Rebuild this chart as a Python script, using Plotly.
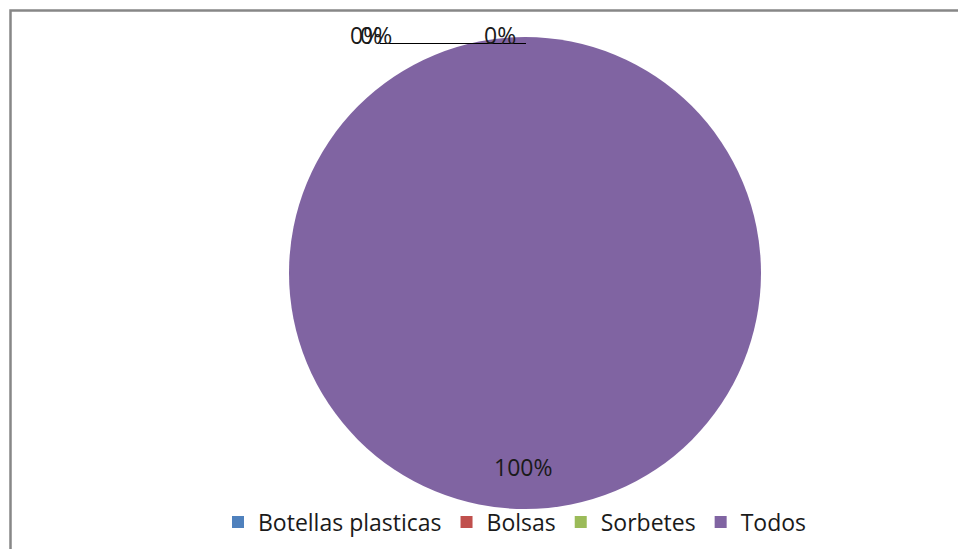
import plotly.graph_objects as go

categories = ["Botellas plasticas", "Bolsas", "Sorbetes", "Todos"]
values = [0, 0, 0, 100]
colors = ["#4F81BD", "#C0504D", "#9BBB59", "#8064A2"]

W, H = 958, 549
total = sum(values)
pcts = [f"{round(v / total * 100)}%" for v in values]

FONT = "Open Sans, Lato, sans-serif"

fig = go.Figure()
fig.add_trace(go.Pie(
    labels=categories,
    values=values,
    sort=False,
    direction="clockwise",
    rotation=0,
    marker=dict(colors=colors, line=dict(width=0)),
    textinfo="none",
    hoverinfo="label+percent",
    domain=dict(x=[289 / W, 761 / W], y=[(H - 509) / H, (H - 37) / H]),
    showlegend=True,
))

# data labels (positions are layout)
label_pos = [(366, 35), (376, 35), (500, 35), (523, 467)]
for txt, (px, py) in zip(pcts, label_pos):
    fig.add_annotation(
        x=px / W, y=1 - py / H, xref="paper", yref="paper",
        text=txt, showarrow=False, xanchor="center", yanchor="middle",
        font=dict(family=FONT, size=23, color="#1a1a1a"),
    )

# leader line
fig.add_shape(type="line", xref="paper", yref="paper",
              x0=380 / W, x1=526 / W, y0=1 - 43.5 / H, y1=1 - 43.5 / H,
              line=dict(color="#000000", width=1))

# chart border
fig.add_shape(type="rect", xref="paper", yref="paper",
              x0=10.5 / W, x1=1.05, y0=-0.05, y1=1 - 10.5 / H,
              line=dict(color="#878787", width=2.5), layer="above")

fig.update_layout(
    width=W, height=H,
    margin=dict(l=0, r=0, t=0, b=0),
    paper_bgcolor="white",
    plot_bgcolor="white",
    legend=dict(
        orientation="h", x=515 / W, xanchor="center",
        y=1 - 522 / H, yanchor="middle",
        bgcolor="rgba(0,0,0,0)",
        font=dict(family=FONT, size=23, color="#1a1a1a"),
        traceorder="normal",
        itemwidth=30,
    ),
)

fig.write_html("out.html")
